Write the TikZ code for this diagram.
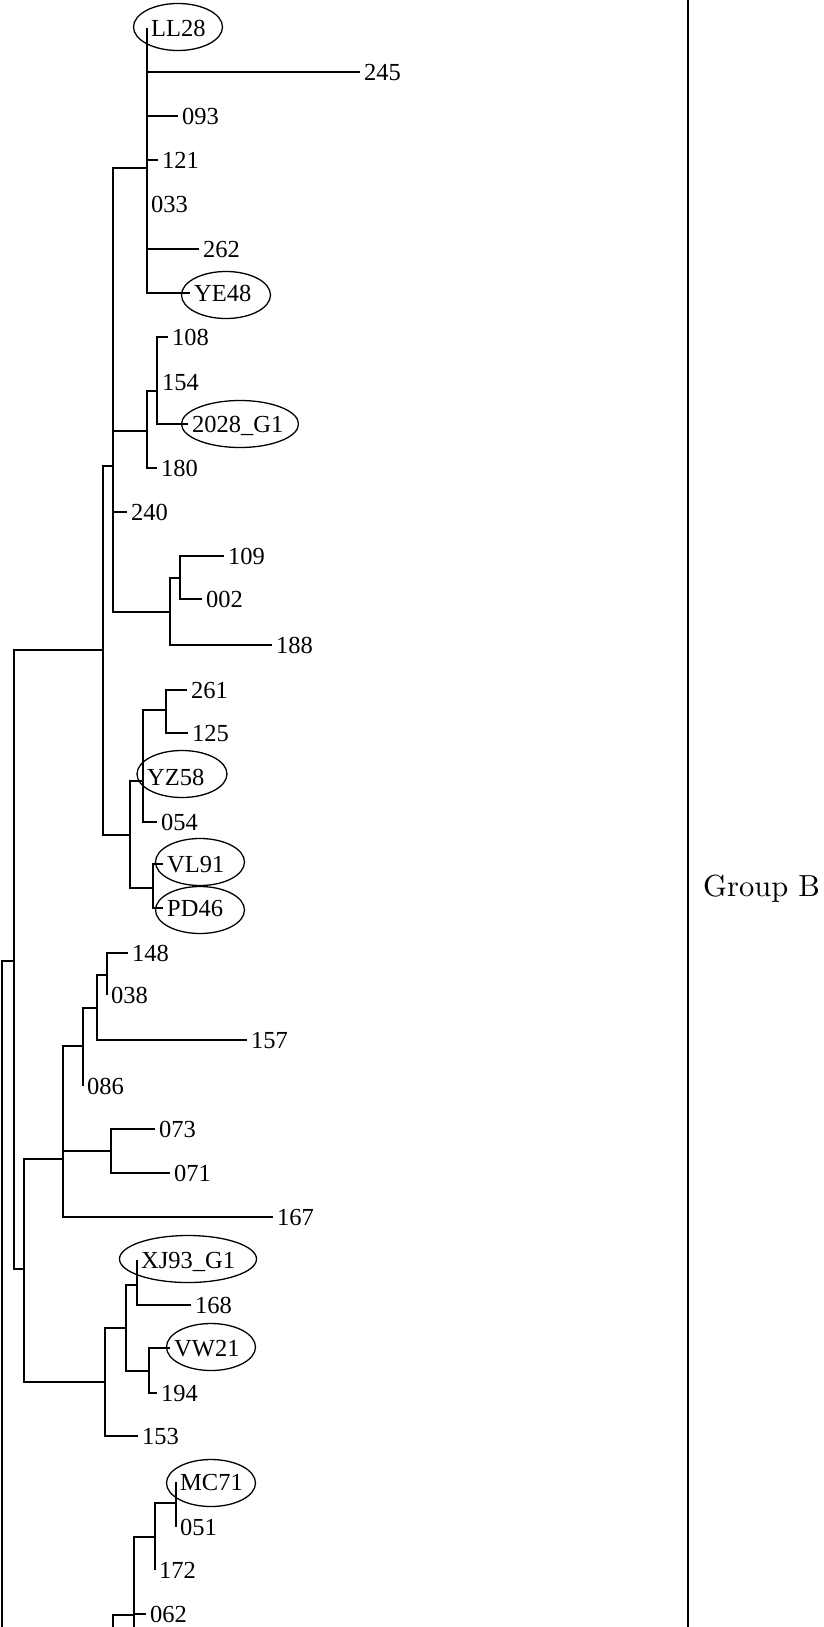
\documentclass[tikz,border=0pt]{standalone}
\usepackage{fontspec}
\newfontfamily\tnr{Liberation Serif}
\newfontfamily\lmten{lmroman10-regular.otf}
\usetikzlibrary{shapes.geometric}
\begin{document}
\begin{tikzpicture}[x=1pt,y=-1pt,
  br/.style={line width=1.6pt},
  lab/.style={anchor=west,inner xsep=4pt,inner ysep=0pt,text height=16.6pt,text depth=0pt,font=\tnr\fontsize{24.5}{26}\selectfont},
  oval/.style={draw,ellipse,line width=1.3pt,inner sep=0pt,minimum height=47pt}]
\useasboundingbox (0,0) rectangle (823,1627);
% internal nodes
\coordinate (b0) at (2,1627);
\coordinate (n14) at (14,961);
\coordinate (n103) at (103,650);
\coordinate (n24) at (24,1269);
\coordinate (n113) at (113,466);
\coordinate (n130) at (130,835);
\coordinate (n147a) at (147,168);
\coordinate (n147b) at (147,431);
\coordinate (n157) at (157,391);
\coordinate (n170) at (170,612);
\coordinate (n180) at (180,578);
\coordinate (n143) at (143,781);
\coordinate (n166) at (166,710);
\coordinate (n153) at (153,888);
\coordinate (n63) at (63,1159);
\coordinate (n83) at (83,1046);
\coordinate (n97) at (97,1008);
\coordinate (n107) at (107,975);
\coordinate (n111) at (111,1151);
\coordinate (n105) at (105,1382);
\coordinate (n126) at (126,1328);
\coordinate (n137) at (137,1285);
\coordinate (n149) at (149,1371);
\coordinate (b1) at (113,1627);
\coordinate (n134) at (134,1615);
\coordinate (b2) at (134,1627);
\coordinate (n155) at (155,1537);
\coordinate (n176) at (176,1503);
% ellipses
\node[oval,minimum width=89pt] (eLL28) at (178,27) {};
\node[oval,minimum width=89pt] (eYE48) at (226,295) {};
\node[oval,minimum width=117pt] (e2028) at (240,424) {};
\node[oval,minimum width=90pt] (eYZ58) at (182,774) {};
\node[oval,minimum width=89pt] (eVL91) at (200,862) {};
\node[oval,minimum width=89pt] (ePD46) at (200,910) {};
\node[oval,minimum width=137pt] (eXJ93) at (188,1259) {};
\node[oval,minimum width=89pt] (eVW21) at (211,1347) {};
\node[oval,minimum width=89pt] (eMC71) at (211,1483) {};
% tip labels
\node[lab] (lLL28) at (147,28) {LL28};
\node[lab] (l245) at (360,72) {245};
\node[lab] (l093) at (178,116) {093};
\node[lab] (l121) at (158,160) {121};
\node[lab] (l033) at (147,204) {033};
\node[lab] (l262) at (199,249) {262};
\node[lab] (lYE48) at (190,293) {YE48};
\node[lab] (l108) at (168,337) {108};
\node[lab] (l154) at (158,382) {154};
\node[lab] (l2028) at (188,424) {2028\_G1};
\node[lab] (l180) at (157,468) {180};
\node[lab] (l240) at (127,512) {240};
\node[lab] (l109) at (224,556) {109};
\node[lab] (l002) at (202,599) {002};
\node[lab] (l188) at (272,645) {188};
\node[lab] (l261) at (187,690) {261};
\node[lab] (l125) at (188,733) {125};
\node[lab] (lYZ58) at (143,777) {YZ58};
\node[lab] (l054) at (157,822) {054};
\node[lab] (lVL91) at (163,864) {VL91};
\node[lab] (lPD46) at (163,908) {PD46};
\node[lab] (l148) at (128,953) {148};
\node[lab] (l038) at (107,995) {038};
\node[lab] (l157) at (247,1040) {157};
\node[lab] (l086) at (83,1086) {086};
\node[lab] (l073) at (155,1129) {073};
\node[lab] (l071) at (170,1173) {071};
\node[lab] (l167) at (273,1217) {167};
\node[lab] (lXJ93) at (137,1260) {XJ93\_G1};
\node[lab] (l168) at (191,1305) {168};
\node[lab] (lVW21) at (170,1348) {VW21};
\node[lab] (l194) at (157,1393) {194};
\node[lab] (l153) at (138,1436) {153};
\node[lab] (lMC71) at (176,1482) {MC71};
\node[lab] (l051) at (176,1527) {051};
\node[lab] (l172) at (155,1570) {172};
\node[lab] (l062) at (146,1614) {062};
% branches
\draw[br] (b0) |- (n14);
\draw[br] (n14) |- (n103);
\draw[br] (n14) |- (n24);
\draw[br] (n103) |- (n113);
\draw[br] (n103) |- (n130);
\draw[br] (n113) |- (n147a);
\draw[br] (n113) |- (n147b);
\draw[br] (n113) |- (l240.west);
\draw[br] (n113) |- (n170);
\draw[br] (n147a) |- (lLL28.west);
\draw[br] (n147a) |- (l245.west);
\draw[br] (n147a) |- (l093.west);
\draw[br] (n147a) |- (l121.west);
\draw[br] (n147a) |- (l033.west);
\draw[br] (n147a) |- (l262.west);
\draw[br] (n147a) |- (lYE48.west);
\draw[br] (n147b) |- (n157);
\draw[br] (n147b) |- (l180.west);
\draw[br] (n157) |- (l108.west);
\draw[br] (n157) |- (l154.west);
\draw[br] (n157) |- (l2028.west);
\draw[br] (n170) |- (n180);
\draw[br] (n170) |- (l188.west);
\draw[br] (n180) |- (l109.west);
\draw[br] (n180) |- (l002.west);
\draw[br] (n130) |- (n143);
\draw[br] (n130) |- (n153);
\draw[br] (n143) |- (n166);
\draw[br] (n143) |- (lYZ58.west);
\draw[br] (n143) |- (l054.west);
\draw[br] (n166) |- (l261.west);
\draw[br] (n166) |- (l125.west);
\draw[br] (n153) |- (lVL91.west);
\draw[br] (n153) |- (lPD46.west);
\draw[br] (n24) |- (n63);
\draw[br] (n24) |- (n105);
\draw[br] (n63) |- (n83);
\draw[br] (n63) |- (n111);
\draw[br] (n63) |- (l167.west);
\draw[br] (n83) |- (n97);
\draw[br] (n83) |- (l086.west);
\draw[br] (n97) |- (n107);
\draw[br] (n97) |- (l157.west);
\draw[br] (n107) |- (l148.west);
\draw[br] (n107) |- (l038.west);
\draw[br] (n111) |- (l073.west);
\draw[br] (n111) |- (l071.west);
\draw[br] (n105) |- (n126);
\draw[br] (n105) |- (l153.west);
\draw[br] (n126) |- (n137);
\draw[br] (n126) |- (n149);
\draw[br] (n137) |- (lXJ93.west);
\draw[br] (n137) |- (l168.west);
\draw[br] (n149) |- (lVW21.west);
\draw[br] (n149) |- (l194.west);
\draw[br] (b1) |- (n134);
\draw[br] (n134) -- (b2);
\draw[br] (n134) |- (n155);
\draw[br] (n134) |- (l062.west);
\draw[br] (n155) |- (n176);
\draw[br] (n155) |- (l172.west);
\draw[br] (n176) |- (lMC71.west);
\draw[br] (n176) |- (l051.west);
% group bar
\coordinate (r0) at (688,0);
\coordinate (r1) at (688,1627);
\draw[line width=1.6pt] (r0) -- (r1);
\node[anchor=base west,inner sep=0pt,font=\lmten\fontsize{30.5}{34}\selectfont] (grp) at (703,896) {Group B};
\end{tikzpicture}
\end{document}
